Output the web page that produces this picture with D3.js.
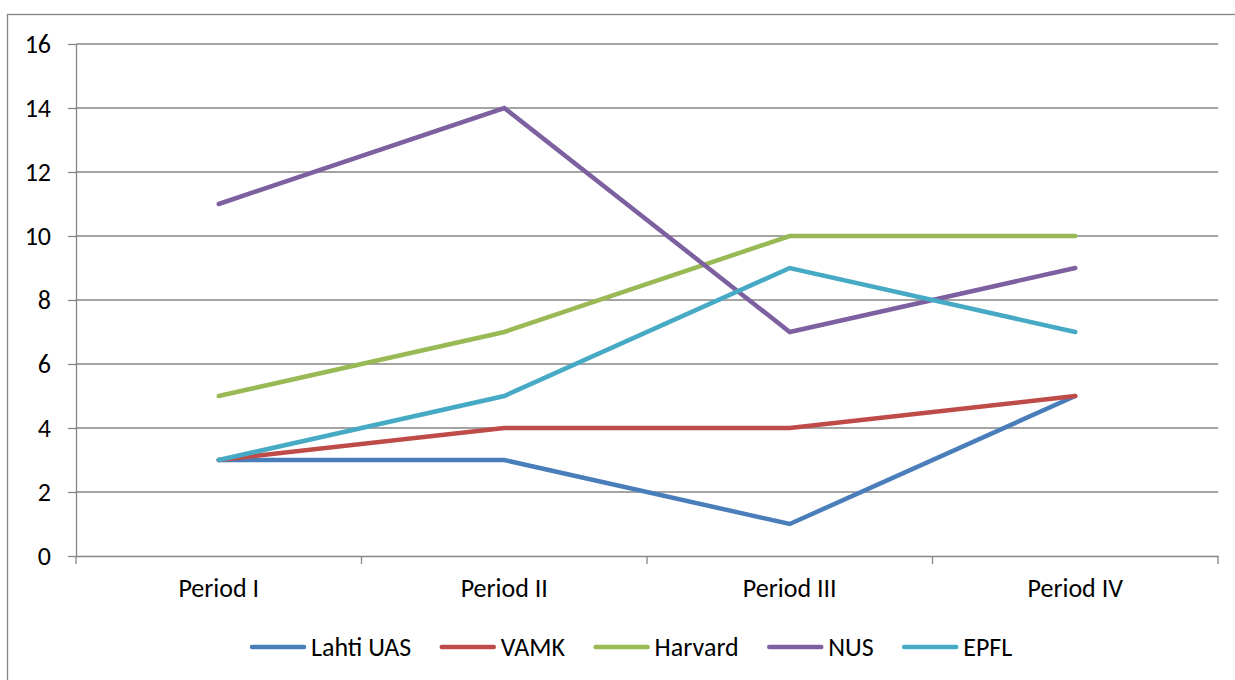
<!DOCTYPE html>
<html>
<head>
<meta charset="utf-8">
<script src="https://cdn.jsdelivr.net/npm/d3@7"></script>
<style>
  html, body { margin: 0; padding: 0; background: #fff; }
  svg { display: block; font-family: Carlito, Calibri, Lato, "Open Sans", sans-serif; }
</style>
</head>
<body>
<svg id="chart" width="1235" height="680"></svg>
<script>
// Periods on the horizontal axis
const periods = ["Period I", "Period II", "Period III", "Period IV"];
// Value axis ticks
const yTicks = [0, 2, 4, 6, 8, 10, 12, 14, 16];
// Series values per period
const lahtiUAS = [3, 3, 1, 5];
const vamk = [3, 4, 4, 5];
const harvard = [5, 7, 10, 10];
const nus = [11, 14, 7, 9];
const epfl = [3, 5, 9, 7];

const seriesNames = ["Lahti UAS", "VAMK", "Harvard", "NUS", "EPFL"];
const seriesValues = [lahtiUAS, vamk, harvard, nus, epfl];
const seriesColors = ["#4A7EBB", "#BE4B48", "#98B954", "#7D60A0", "#46AAC5"];

const svg = d3.select("#chart");
const W = 1235, H = 680;
const plot = { left: 76, right: 1218, top: 44, bottom: 556 };
const gridColor = "#868686";
const fontSize = 26;
const fontFamily = "Carlito, Calibri, Lato, sans-serif";

// Outer chart frame
svg.append("rect")
  .attr("x", 7.5).attr("y", 14.5)
  .attr("width", W + 20).attr("height", H + 20)
  .attr("fill", "#fff").attr("stroke", gridColor).attr("stroke-width", 1.3);

const x = d3.scaleBand().domain(periods).range([plot.left, plot.right]).padding(0);
const y = d3.scaleLinear().domain([0, 16]).range([plot.bottom, plot.top]);

// Horizontal gridlines
svg.append("g").selectAll("line")
  .data(yTicks.filter(d => d > 0))
  .join("line")
  .attr("x1", plot.left).attr("x2", plot.right)
  .attr("y1", d => y(d)).attr("y2", d => y(d))
  .attr("stroke", gridColor).attr("stroke-width", 1.3);

// Value axis
const yAxis = svg.append("g")
  .attr("transform", `translate(${plot.left},0)`)
  .call(d3.axisLeft(y).tickValues(yTicks).tickSize(8).tickPadding(17).tickSizeOuter(0));
yAxis.select(".domain").attr("stroke", gridColor).attr("stroke-width", 1.3);
yAxis.selectAll(".tick line").attr("stroke", gridColor).attr("stroke-width", 1.3);
yAxis.selectAll(".tick text")
  .attr("font-size", fontSize).attr("fill", "#000")
  .style("font-family", fontFamily);

// Category axis
const xAxis = svg.append("g")
  .attr("transform", `translate(0,${plot.bottom})`)
  .call(d3.axisBottom(x).tickSize(0).tickPadding(23).tickSizeOuter(0));
xAxis.select(".domain").attr("stroke", gridColor).attr("stroke-width", 1.3);
xAxis.selectAll(".tick text")
  .attr("font-size", fontSize).attr("fill", "#000")
  .style("font-family", fontFamily);

// Category boundary ticks
const boundaries = periods.map(p => x(p)).concat([x(periods[periods.length - 1]) + x.bandwidth()]);
svg.append("g").selectAll("line")
  .data(boundaries)
  .join("line")
  .attr("x1", d => d).attr("x2", d => d)
  .attr("y1", plot.bottom).attr("y2", plot.bottom + 8)
  .attr("stroke", gridColor).attr("stroke-width", 1.3);

// Series lines
const line = d3.line()
  .x((d, i) => x(periods[i]) + x.bandwidth() / 2)
  .y(d => y(d));

svg.append("g").selectAll("path")
  .data(seriesValues)
  .join("path")
  .attr("d", d => line(d))
  .attr("fill", "none")
  .attr("stroke", (d, i) => seriesColors[i])
  .attr("stroke-width", 4.5)
  .attr("stroke-linecap", "round")
  .attr("stroke-linejoin", "miter");

// Legend
const legend = svg.append("g");
let lx = 252;
const ly = 647;
seriesNames.forEach((name, i) => {
  legend.append("line")
    .attr("x1", lx).attr("x2", lx + 52)
    .attr("y1", ly).attr("y2", ly)
    .attr("stroke", seriesColors[i]).attr("stroke-width", 4.5)
    .attr("stroke-linecap", "round");
  const t = legend.append("text")
    .attr("x", lx + 59).attr("y", ly)
    .attr("dy", "0.35em")
    .attr("font-size", fontSize).attr("fill", "#000")
    .text(name);
  const w = t.node().getComputedTextLength();
  lx = lx + 59 + w + 30.5;
});
</script>
</body>
</html>
